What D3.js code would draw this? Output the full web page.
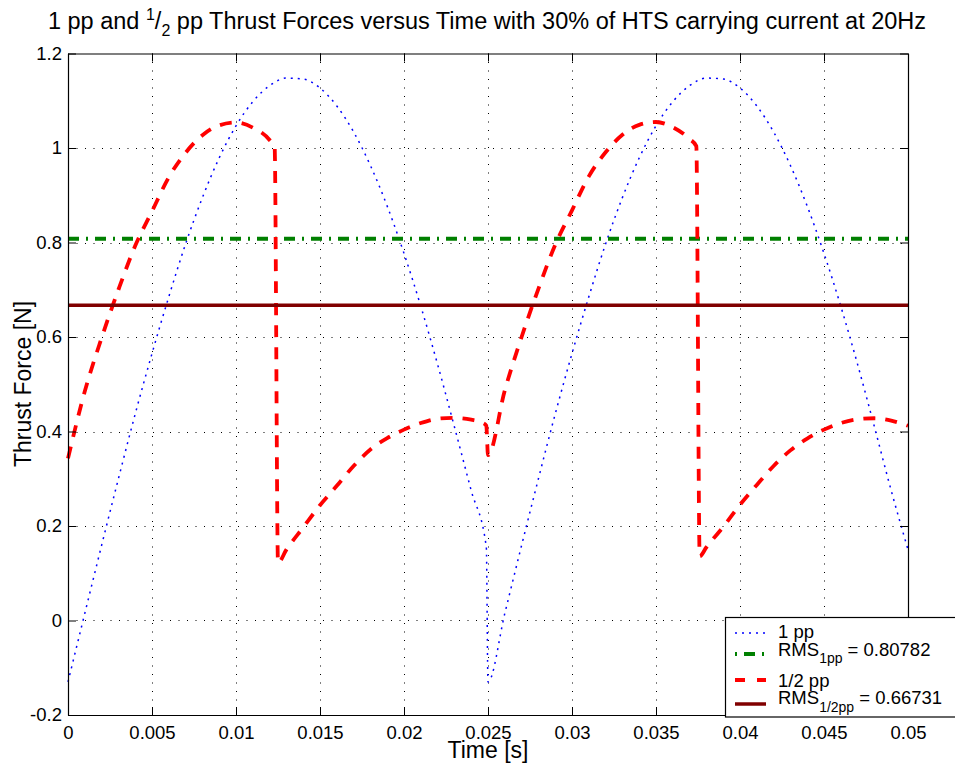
<!DOCTYPE html>
<html>
<head>
<meta charset="utf-8">
<script src="https://cdn.jsdelivr.net/npm/d3@7"></script>
<style>
  body { margin: 0; background: #fff; }
  text { font-family: "Liberation Sans", Arial, Helvetica, sans-serif; fill: #000; }
</style>
</head>
<body>
<svg id="chart" width="955" height="769"></svg>
<script>
// Thrust force of the 1 pole-pitch machine (N) against time (s)
const timeOnePP = [
  0, 0.001, 0.002, 0.003, 0.004, 0.005, 0.006, 0.007, 0.008, 0.009,
  0.010, 0.011, 0.012, 0.013, 0.014, 0.015, 0.016, 0.017, 0.018, 0.019,
  0.020, 0.021, 0.022, 0.023, 0.024, 0.0249,
  0.025, 0.026, 0.027, 0.028, 0.029, 0.030, 0.031, 0.032, 0.033, 0.034,
  0.035, 0.036, 0.037, 0.038, 0.039, 0.040, 0.041, 0.042, 0.043, 0.044,
  0.045, 0.046, 0.047, 0.048, 0.049, 0.050
];
const forceOnePP = [
  -0.130, 0.015, 0.159, 0.300, 0.437, 0.565, 0.685, 0.797, 0.895, 0.979,
  1.047, 1.098, 1.132, 1.148, 1.146, 1.127, 1.089, 1.034, 0.963, 0.877,
  0.777, 0.665, 0.542, 0.410, 0.275, 0.155,
  -0.130, 0.015, 0.159, 0.300, 0.437, 0.565, 0.685, 0.797, 0.895, 0.979,
  1.047, 1.098, 1.132, 1.148, 1.146, 1.127, 1.089, 1.034, 0.963, 0.877,
  0.777, 0.665, 0.542, 0.410, 0.275, 0.150
];

// Thrust force of the 1/2 pole-pitch machine (N) against time (s)
const timeHalfPP = [
  0, 0.001, 0.002, 0.003, 0.004, 0.005, 0.006, 0.007, 0.008, 0.009,
  0.010, 0.011, 0.012, 0.0123, 0.0125, 0.013, 0.014, 0.015, 0.016, 0.017,
  0.018, 0.019, 0.020, 0.021, 0.022, 0.023, 0.024, 0.0247, 0.0249,
  0.025, 0.026, 0.027, 0.028, 0.029, 0.030, 0.031, 0.032, 0.033, 0.034,
  0.035, 0.036, 0.037, 0.0374, 0.0376, 0.038, 0.039, 0.040, 0.041, 0.042,
  0.043, 0.044, 0.045, 0.046, 0.047, 0.048, 0.049, 0.050
];
const forceHalfPP = [
  0.343, 0.485, 0.598, 0.700, 0.793, 0.866, 0.938, 0.990, 1.027, 1.048,
  1.054, 1.043, 1.017, 1.002, 0.122, 0.150, 0.197, 0.244, 0.285, 0.327,
  0.362, 0.386, 0.404, 0.418, 0.427, 0.429, 0.425, 0.418, 0.412,
  0.350, 0.487, 0.600, 0.702, 0.795, 0.868, 0.940, 0.991, 1.028, 1.049,
  1.055, 1.044, 1.019, 1.004, 0.136, 0.155, 0.198, 0.245, 0.287, 0.327,
  0.360, 0.385, 0.404, 0.418, 0.426, 0.428, 0.423, 0.412
];

// RMS values of the two thrust forces
const rmsOnePP = 0.80782;
const rmsHalfPP = 0.66731;

// Axis ticks
const xTickValues = [0, 0.005, 0.01, 0.015, 0.02, 0.025, 0.03, 0.035, 0.04, 0.045, 0.05];
const xTickLabels = ["0", "0.005", "0.01", "0.015", "0.02", "0.025", "0.03", "0.035", "0.04", "0.045", "0.05"];
const yTickValues = [-0.2, 0, 0.2, 0.4, 0.6, 0.8, 1, 1.2];
const yTickLabels = ["-0.2", "0", "0.2", "0.4", "0.6", "0.8", "1", "1.2"];

const svg = d3.select("#chart");
const plotLeft = 68, plotRight = 908, plotTop = 53.5, plotBottom = 715;

const x = d3.scaleLinear().domain([0, 0.05]).range([plotLeft, plotRight]);
const y = d3.scaleLinear().domain([-0.2, 1.2]).range([plotBottom, plotTop]);

svg.append("rect").attr("width", 955).attr("height", 769).attr("fill", "#fff");

// Dotted grid
const grid = svg.append("g").attr("stroke", "#000").attr("stroke-width", 1)
  .attr("stroke-dasharray", "1,7.5").attr("fill", "none");
grid.selectAll("line.vx").data(xTickValues.slice(1, -1)).join("line")
  .attr("x1", d => Math.round(x(d)) + 0.5).attr("x2", d => Math.round(x(d)) + 0.5)
  .attr("y1", plotTop).attr("y2", plotBottom);
grid.selectAll("line.hy").data(yTickValues.slice(1, -1)).join("line")
  .attr("y1", d => Math.round(y(d)) + 0.5).attr("y2", d => Math.round(y(d)) + 0.5)
  .attr("x1", plotLeft).attr("x2", plotRight);

// Data lines
const lineOne = d3.line().x((d, i) => x(timeOnePP[i])).y(d => y(d)).curve(d3.curveMonotoneX);
const lineHalf = d3.line().x((d, i) => x(timeHalfPP[i])).y(d => y(d)).curve(d3.curveMonotoneX);

svg.append("path").attr("d", lineOne(forceOnePP))
  .attr("fill", "none").attr("stroke", "#0000ff").attr("stroke-width", 1.5)
  .attr("stroke-dasharray", "2,5");

svg.append("line")
  .attr("x1", x(0)).attr("x2", x(0.05)).attr("y1", y(rmsOnePP)).attr("y2", y(rmsOnePP))
  .attr("stroke", "#008000").attr("stroke-width", 4)
  .attr("stroke-dasharray", "11,7,2,7");

svg.append("path").attr("d", lineHalf(forceHalfPP))
  .attr("fill", "none").attr("stroke", "#ff0000").attr("stroke-width", 3.8)
  .attr("stroke-dasharray", "12,10").attr("stroke-linejoin", "round");

svg.append("line")
  .attr("x1", x(0)).attr("x2", x(0.05)).attr("y1", y(rmsHalfPP)).attr("y2", y(rmsHalfPP))
  .attr("stroke", "#800000").attr("stroke-width", 3.5);

// Axes (ticks pointing inward on all four sides)
const fs = "18.5px";
const axB = svg.append("g").attr("transform", `translate(0,${plotBottom})`)
  .call(d3.axisBottom(x).tickValues(xTickValues).tickFormat((d, i) => xTickLabels[i])
    .tickSizeInner(-8).tickSizeOuter(0).tickPadding(11));
const axT = svg.append("g").attr("transform", `translate(0,${plotTop})`)
  .call(d3.axisTop(x).tickValues(xTickValues).tickFormat("").tickSizeInner(-8).tickSizeOuter(0));
const axL = svg.append("g").attr("transform", `translate(${plotLeft},0)`)
  .call(d3.axisLeft(y).tickValues(yTickValues).tickFormat((d, i) => yTickLabels[i])
    .tickSizeInner(-8).tickSizeOuter(0).tickPadding(6));
const axR = svg.append("g").attr("transform", `translate(${plotRight},0)`)
  .call(d3.axisRight(y).tickValues(yTickValues).tickFormat("").tickSizeInner(-8).tickSizeOuter(0));
[axB, axT, axL, axR].forEach(g => {
  g.selectAll(".domain").attr("stroke", "#000").attr("stroke-width", 1.2);
  g.selectAll(".tick line").attr("stroke", "#000").attr("stroke-width", 1);
  g.selectAll("text").style("font-size", fs).attr("fill", "#000")
    .style("font-family", '"Liberation Sans", Arial, sans-serif');
});
axB.selectAll("text").attr("dy", "0.71em");

// Title with super/subscript fraction
const title = svg.append("text").attr("x", 487).attr("y", 29)
  .attr("text-anchor", "middle").style("font-size", "23.5px");
title.append("tspan").text("1 pp and ");
title.append("tspan").attr("dy", -9).style("font-size", "16px").text("1");
title.append("tspan").attr("dy", 9).text("/");
title.append("tspan").attr("dy", 7).style("font-size", "16px").text("2");
title.append("tspan").attr("dy", -7).text(" pp Thrust Forces versus Time with 30% of HTS carrying current at 20Hz");

// Axis labels
svg.append("text").attr("x", 488).attr("y", 758).attr("text-anchor", "middle")
  .style("font-size", "23px").text("Time [s]");
svg.append("text").attr("transform", "translate(31,384) rotate(-90)")
  .attr("text-anchor", "middle").style("font-size", "23px").text("Thrust Force [N]");

// Legend
const lg = svg.append("g");
lg.append("rect").attr("x", 725.5).attr("y", 617.5).attr("width", 240).attr("height", 99.5)
  .attr("fill", "#fff").attr("stroke", "#000").attr("stroke-width", 1.2);
const sx1 = 735, sx2 = 766, tx = 778;
lg.append("line").attr("x1", sx1).attr("x2", sx2).attr("y1", 633).attr("y2", 633)
  .attr("stroke", "#0000ff").attr("stroke-width", 1.5).attr("stroke-dasharray", "2,5");
lg.append("line").attr("x1", sx1).attr("x2", sx2).attr("y1", 654).attr("y2", 654)
  .attr("stroke", "#008000").attr("stroke-width", 4).attr("stroke-dasharray", "2,7,11,7,2");
lg.append("line").attr("x1", sx1).attr("x2", sx2).attr("y1", 680).attr("y2", 680)
  .attr("stroke", "#ff0000").attr("stroke-width", 3.8).attr("stroke-dasharray", "10,12");
lg.append("line").attr("x1", sx1).attr("x2", sx2).attr("y1", 704).attr("y2", 704)
  .attr("stroke", "#800000").attr("stroke-width", 3.5);

const lfs = "18.5px", sfs = "14px";
lg.append("text").attr("x", tx).attr("y", 638).style("font-size", lfs).text("1 pp");
const r1 = lg.append("text").attr("x", tx).attr("y", 656).style("font-size", lfs);
r1.append("tspan").text("RMS");
r1.append("tspan").attr("dy", 7).style("font-size", sfs).text("1pp");
r1.append("tspan").attr("dy", -7).text(" = " + rmsOnePP.toFixed(5));
lg.append("text").attr("x", tx).attr("y", 687).style("font-size", lfs).text("1/2 pp");
const r2 = lg.append("text").attr("x", tx).attr("y", 704).style("font-size", lfs);
r2.append("tspan").text("RMS");
r2.append("tspan").attr("dy", 8).style("font-size", sfs).text("1/2pp");
r2.append("tspan").attr("dy", -8).text(" = " + rmsHalfPP.toFixed(5));
</script>
</body>
</html>
